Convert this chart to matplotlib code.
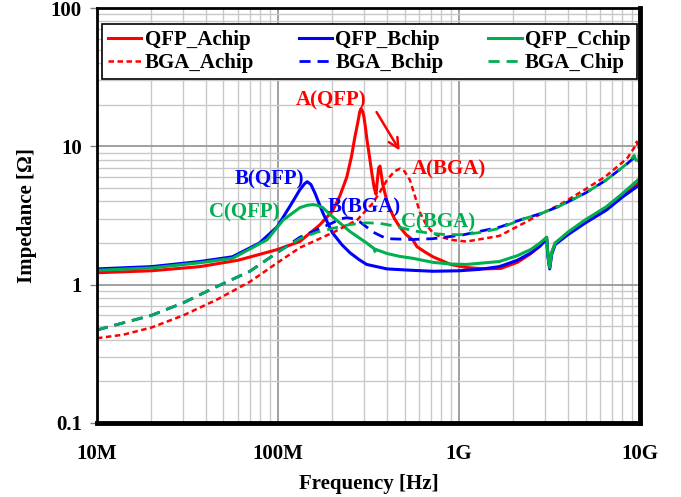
import matplotlib
matplotlib.use('Agg')
import matplotlib.pyplot as plt
from matplotlib.ticker import FixedLocator, FixedFormatter, LogLocator, NullFormatter

plt.rcParams['font.family'] = ['Liberation Serif', 'DejaVu Serif']
plt.rcParams['font.weight'] = 'bold'

# frequencias em MHz, impedancia em ohm
qfp_a_f = [10, 20, 37, 60, 100, 132, 170, 200, 220, 240, 255, 266, 275, 283, 288, 293, 298, 304, 310, 320,
           330, 340, 348, 353, 360, 366, 372, 378, 385, 400, 416, 440, 472, 510, 557, 586, 650, 718, 900,
           1100, 1400, 1700, 2100, 2450, 2800, 3050, 3100, 3170, 3250, 3400, 4000, 5000, 6500, 8000, 10000]
qfp_a_z = [1.22, 1.26, 1.35, 1.5, 1.8, 2.05, 2.7, 3.4, 4.4, 6.0, 8.5, 11.7, 14.5, 17.8, 18.7, 18.0, 16.5, 13.8, 11.2, 8.5,
           6.4, 5.0, 4.5, 5.5, 7.0, 7.2, 6.3, 5.4, 4.9, 4.0, 3.5, 3.0, 2.6, 2.3, 2.1, 1.88, 1.72, 1.59, 1.4,
           1.33, 1.3, 1.31, 1.45, 1.65, 1.9, 2.2, 1.65, 1.33, 1.7, 2.0, 2.35, 2.85, 3.6, 4.5, 5.6]

qfp_b_f = [10, 20, 37, 56, 79, 99, 116, 132, 140, 145, 152, 160, 177, 200, 225, 250, 280, 309, 400, 550, 718,
           1000, 1300, 1670, 2100, 2500, 2800, 3050, 3100, 3170, 3250, 3400, 4000, 5000, 6500, 8000, 10000]
qfp_b_z = [1.30, 1.35, 1.47, 1.59, 2.0, 2.62, 3.66, 4.85, 5.35, 5.55, 5.3, 4.6, 3.3, 2.37, 1.95, 1.70, 1.52, 1.40, 1.30, 1.27, 1.25,
           1.26, 1.29, 1.35, 1.5, 1.7, 1.9, 2.13, 1.6, 1.3, 1.65, 1.95, 2.3, 2.8, 3.45, 4.3, 5.3]

qfp_c_f = [10, 20, 37, 56, 87, 107, 132, 145, 156, 165, 177, 200, 250, 309, 340, 343, 346, 400, 472, 557, 718,
           900, 1100, 1670, 2100, 2500, 2800, 3050, 3100, 3170, 3250, 3400, 4000, 5000, 6500, 8000, 10000]
qfp_c_z = [1.27, 1.32, 1.44, 1.55, 2.11, 2.94, 3.6, 3.75, 3.79, 3.75, 3.6, 3.1, 2.42, 2.0, 1.82, 1.74, 1.80, 1.68, 1.6, 1.55, 1.45,
           1.41, 1.40, 1.47, 1.62, 1.8, 2.0, 2.2, 1.6, 1.33, 1.7, 2.0, 2.4, 2.95, 3.65, 4.55, 5.9]

bga_a_f = [10, 14, 20, 30, 46, 70, 100, 132, 200, 274, 335, 370, 400, 440, 472, 500, 536, 570, 610, 660, 718,
           800, 930, 1100, 1670, 2300, 2900, 3600, 5000, 6500, 8500, 9300, 9600, 9800, 10000]
bga_a_z = [0.41, 0.435, 0.49, 0.6, 0.78, 1.05, 1.45, 1.85, 2.37, 2.94, 3.9, 4.8, 5.7, 6.6, 6.9, 6.6, 5.7, 4.4, 3.3, 2.7, 2.37,
           2.2, 2.1, 2.05, 2.25, 2.8, 3.3, 3.78, 4.9, 6.1, 8.2, 9.8, 10.8, 9.6, 10.5]

bga_b_f = [10, 14, 20, 30, 46, 70, 100, 132, 165, 200, 225, 240, 260, 283, 310, 335, 370, 400, 550, 718,
           1050, 1670, 2200, 2900, 3600, 5000, 6500, 8500, 9300, 9700, 10000]
bga_b_z = [0.47, 0.53, 0.60, 0.74, 0.97, 1.25, 1.72, 2.2, 2.5, 2.8, 3.0, 3.05, 3.0, 2.85, 2.6, 2.4, 2.25, 2.15, 2.12, 2.15,
           2.29, 2.6, 2.95, 3.3, 3.7, 4.6, 5.7, 7.5, 8.3, 8.0, 9.0]

bga_c_f = [10, 14, 20, 30, 46, 70, 100, 132, 165, 200, 250, 309, 360, 400, 470, 560, 700, 850, 1050, 1300,
           1670, 2200, 2900, 3600, 5000, 6500, 8500, 9300, 9700, 10000]
bga_c_z = [0.47, 0.53, 0.60, 0.74, 0.97, 1.25, 1.72, 2.15, 2.4, 2.55, 2.72, 2.8, 2.78, 2.72, 2.6, 2.45, 2.35, 2.3, 2.3, 2.38,
           2.55, 2.95, 3.3, 3.7, 4.6, 5.7, 7.5, 8.6, 7.3, 9.2]

x_ticks = [1e7, 1e8, 1e9, 1e10]
x_labels = ['10M', '100M', '1G', '10G']
y_ticks = [0.1, 1, 10, 100]
y_labels = ['0.1', '1', '10', '100']

vermelho = '#FF0000'
azul = '#0000FF'
verde = '#00B050'

fig = plt.figure(figsize=(6.81, 4.97), dpi=100)
ax = fig.add_axes([0.1424, 0.1489, 0.7974, 0.835])

def hz(lista):
    return [v * 1e6 for v in lista]

lw = 2.2
l1, = ax.plot(hz(qfp_a_f), qfp_a_z, color=vermelho, lw=lw, label='QFP_Achip')
l2, = ax.plot(hz(qfp_b_f), qfp_b_z, color=azul, lw=lw, label='QFP_Bchip')
l3, = ax.plot(hz(qfp_c_f), qfp_c_z, color=verde, lw=lw, label='QFP_Cchip')
l4, = ax.plot(hz(bga_a_f), bga_a_z, color=vermelho, lw=1.8, ls=(0, (2.2, 1.4)), label='BGA_Achip')
l5, = ax.plot(hz(bga_b_f), bga_b_z, color=azul, lw=2.0, ls=(0, (4, 2.5)), label='BGA_Bchip')
l6, = ax.plot(hz(bga_c_f), bga_c_z, color=verde, lw=2.0, ls=(0, (4, 2.5)), label='BGA_Chip')

ax.set_xscale('log')
ax.set_yscale('log')
ax.set_xlim(1e7, 1e10)
ax.set_ylim(0.1, 100)

ax.xaxis.set_major_locator(FixedLocator(x_ticks))
ax.xaxis.set_major_formatter(FixedFormatter(x_labels))
ax.yaxis.set_major_locator(FixedLocator(y_ticks))
ax.yaxis.set_major_formatter(FixedFormatter(y_labels))
ax.xaxis.set_minor_locator(LogLocator(base=10, subs=range(2, 10)))
ax.yaxis.set_minor_locator(LogLocator(base=10, subs=range(2, 10)))
ax.xaxis.set_minor_formatter(NullFormatter())
ax.yaxis.set_minor_formatter(NullFormatter())

ax.grid(which='major', color='#9a9a9a', lw=1.3)
ax.grid(which='minor', color='#c8c8c8', lw=1.0)
ax.set_axisbelow(True)

ax.tick_params(axis='x', which='both', length=0, pad=15, labelsize=15)
ax.tick_params(axis='y', which='major', length=5, width=1, color='#808080', direction='out', pad=6, labelsize=15)
ax.tick_params(axis='y', which='minor', length=0)

for lado, largura in [('left', 2.0), ('top', 2.0), ('right', 3.5), ('bottom', 3.5)]:
    ax.spines[lado].set_linewidth(largura)
    ax.spines[lado].set_color('black')

ax.set_xlabel('Frequency [Hz]', fontsize=15, fontweight='bold', labelpad=7)
ax.set_ylabel('Impedance [Ω]', fontsize=15, fontweight='bold', labelpad=10)

# legenda: ncol=3 preenche por coluna
leg = ax.legend(handles=[l1, l4, l2, l5, l3, l6], ncol=3, loc='upper left',
                bbox_to_anchor=(0.009, 0.842, 0.985, 0.12), mode='expand', borderaxespad=0,
                fontsize=15, frameon=True, fancybox=False, framealpha=1, edgecolor='black',
                handlelength=1.6, handletextpad=0.15, labelspacing=0.15, borderpad=0.3, columnspacing=1.0)
leg.get_frame().set_linewidth(1.2)

# anotacoes
fs = 15
ax.text(196e6, 21.3, 'A(QFP)', color=vermelho, fontsize=fs, ha='center', va='center')
ax.text(881e6, 6.76, 'A(BGA)', color=vermelho, fontsize=fs, ha='center', va='center')
ax.text(90e6, 5.73, 'B(QFP)', color=azul, fontsize=fs, ha='center', va='center')
ax.text(65e6, 3.31, 'C(QFP)', color=verde, fontsize=fs, ha='center', va='center')
ax.text(299e6, 3.6, 'B(BGA)', color=azul, fontsize=fs, ha='center', va='center')
ax.text(766e6, 2.81, 'C(BGA)', color=verde, fontsize=fs, ha='center', va='center')
ax.annotate('', xy=(479e6, 8.97), xytext=(344e6, 18.4),
            arrowprops=dict(arrowstyle='->', color=vermelho, lw=1.8, mutation_scale=18))

fig.savefig('out.png', dpi=100)
